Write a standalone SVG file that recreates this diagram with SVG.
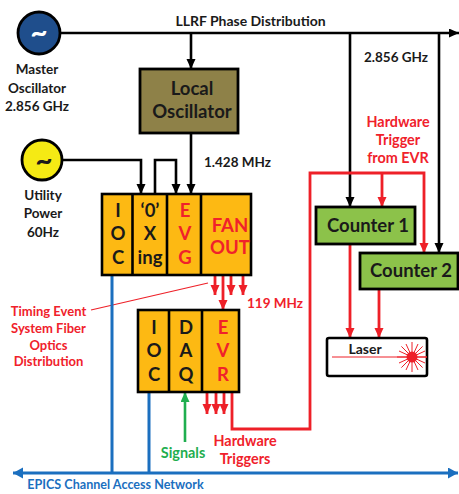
<svg xmlns="http://www.w3.org/2000/svg" width="459" height="494" viewBox="0 0 459 494">
<style>
text{font-family:Lato,"Open Sans","Liberation Sans",sans-serif;font-weight:700;text-anchor:middle}
.k{fill:#1a1a1a}.r{fill:#f0212b}.g{fill:#1fae4f}.b{fill:#1b6fbf}
.t13{font-size:13.5px}.t14{font-size:14.4px}.t12{font-size:13px}.t18{font-size:18.500px}
.lk{fill:none;stroke:#000;stroke-width:2.6}
.lr{fill:none;stroke:#ee2028;stroke-width:2.8}
.lb{fill:none;stroke:#1b6fbf;stroke-width:3}
.lg{fill:none;stroke:#1fae4f;stroke-width:2.6}
.box{fill:#fdb913;stroke:#000;stroke-width:2.6}
.cnt{fill:#8cc24a;stroke:#000;stroke-width:2.8}
</style>
<defs>
<marker id="ak" markerUnits="userSpaceOnUse" markerWidth="12" markerHeight="10" refX="10" refY="4.5" orient="auto"><path d="M0 0L10 4.5L0 9Z" fill="#000"/></marker>
<marker id="ar" markerUnits="userSpaceOnUse" markerWidth="12" markerHeight="10" refX="10" refY="4.5" orient="auto"><path d="M0 0L10 4.5L0 9Z" fill="#ee2028"/></marker>
<marker id="ag" markerUnits="userSpaceOnUse" markerWidth="12" markerHeight="10" refX="10" refY="4.5" orient="auto"><path d="M0 0L10 4.5L0 9Z" fill="#1fae4f"/></marker>
<marker id="ab" markerUnits="userSpaceOnUse" markerWidth="12" markerHeight="12" refX="10" refY="5.5" orient="auto-start-reverse"><path d="M0 0L10 5.5L0 11Z" fill="#1b6fbf"/></marker>
</defs>
<g id="connectors">
<path class="lk" d="M60 33H459" marker-end="url(#ak)"/>
<path class="lk" d="M191 33V69" marker-end="url(#ak)"/>
<path class="lk" d="M350 33V207" marker-end="url(#ak)"/>
<path class="lk" d="M439 33V253" marker-end="url(#ak)"/>
<path class="lk" d="M191 133V194" marker-end="url(#ak)"/>
<path class="lk" d="M62 160H141V194" marker-end="url(#ak)"/>
<path class="lk" d="M155 194V160H176V194" marker-end="url(#ak)"/>
<path class="lr" d="M194 236H212" marker-end="url(#ar)"/>
<path class="lr" d="M215 275V295" marker-end="url(#ar)"/>
<path class="lr" d="M223 275V310" marker-end="url(#ar)"/>
<path class="lr" d="M231 275V295" marker-end="url(#ar)"/>
<path class="lr" d="M243 275V295" marker-end="url(#ar)"/>
<path class="lr" d="M207 392V414" marker-end="url(#ar)"/>
<path class="lr" d="M216 392V414" marker-end="url(#ar)"/>
<path class="lr" d="M224 392V414" marker-end="url(#ar)"/>
<path class="lr" d="M232 392V429H310V173H424V253" marker-end="url(#ar)"/>
<path class="lr" d="M382 173V207" marker-end="url(#ar)"/>
<path class="lr" d="M350 244V338" marker-end="url(#ar)"/>
<path class="lr" d="M379 289V338" marker-end="url(#ar)"/>
<path fill="none" stroke="#ee2028" stroke-width="1.2" d="M91 310L208 283"/>
<path class="lg" d="M185 442V392" marker-end="url(#ag)"/>
<path class="lb" d="M112 275V473M149 392V473"/>
<path class="lb" d="M13 473H458" marker-start="url(#ab)" marker-end="url(#ab)"/>
</g>
<g id="master-oscillator">
<circle cx="39" cy="33" r="21" fill="#1f4e8c" stroke="#000" stroke-width="2.8"/>
<text x="39" y="43" font-size="30" style="fill:#fff">~</text>
<text class="k t13" x="37" y="74">Master</text>
<text class="k t13" x="37" y="93">Oscillator</text>
<text class="k t13" x="37" y="111">2.856 GHz</text>
</g>
<g id="utility-power">
<circle cx="42" cy="160" r="20" fill="#f5ea14" stroke="#000" stroke-width="2.8"/>
<text x="44" y="171" font-size="30" class="k">~</text>
<text class="k t13" x="43" y="200">Utility</text>
<text class="k t13" x="43" y="218">Power</text>
<text class="k t13" x="43" y="237">60Hz</text>
</g>
<g id="local-oscillator">
<rect x="140" y="69" width="98" height="64" fill="#8e8148" stroke="#000" stroke-width="2.8"/>
<text class="k t18" x="192" y="95">Local</text>
<text class="k t18" x="192" y="118">Oscillator</text>
</g>
<g id="timing-box">
<rect class="box" x="102" y="194" width="149" height="81"/>
<path fill="none" stroke="#000" stroke-width="2.6" d="M132.500 194V275M167 194V275M201 194V275"/>
<text class="k t18" x="118" y="217">I</text><text class="k t18" x="118" y="240">O</text><text class="k t18" x="118" y="264">C</text>
<text class="k t18" x="150" y="217">‘0’</text><text class="k t18" x="150" y="240">X</text><text class="k t18" x="150" y="264">ing</text>
<text class="r t18" x="185" y="217">E</text><text class="r t18" x="185" y="240">V</text><text class="r t18" x="185" y="264">G</text>
<text class="r t18" x="230" y="232">FAN</text><text class="r t18" x="230" y="254">OUT</text>
</g>
<g id="evr-box">
<rect class="box" x="138" y="310" width="101" height="82"/>
<path fill="none" stroke="#000" stroke-width="2.6" d="M169 310V392M202 310V392"/>
<text class="k t18" x="154" y="334">I</text><text class="k t18" x="154" y="357">O</text><text class="k t18" x="154" y="381">C</text>
<text class="k t18" x="186" y="334">D</text><text class="k t18" x="186" y="357">A</text><text class="k t18" x="186" y="381">Q</text>
<text class="r t18" x="223" y="334">E</text><text class="r t18" x="223" y="357">V</text><text class="r t18" x="223" y="381">R</text>
</g>
<g id="counter-1">
<rect class="cnt" x="316" y="207" width="99" height="37"/>
<text class="k t18" x="368" y="232">Counter 1</text>
</g>
<g id="counter-2">
<rect class="cnt" x="360" y="253" width="98" height="36"/>
<text class="k t18" x="411" y="277">Counter 2</text>
</g>
<g id="laser">
<rect x="327" y="338" width="100" height="38" rx="2" fill="#fff" stroke="#000" stroke-width="2.6"/>
<text class="k" font-size="14" x="365" y="354">Laser</text>
<path fill="none" stroke="#ee2028" stroke-width="1" d="M332 357H427M412 342V372M397 357H427M401.400 346.400L422.600 367.600M401.400 367.600L422.600 346.400M406 344L418 370M406 370L418 344M399 351L425 363M399 363L425 351"/>
<circle cx="412" cy="357" r="5.500" fill="#ee2028"/>
</g>
<g id="labels">
<text class="k" font-size="14" x="250.500" y="26">LLRF Phase Distribution</text>
<text class="k t13" x="396" y="62">2.856 GHz</text>
<text class="k t13" x="237.500" y="167">1.428 MHz</text>
<text class="r t14" x="398" y="127">Hardware</text>
<text class="r t14" x="398" y="145">Trigger</text>
<text class="r t14" x="398" y="163">from EVR</text>
<text class="r t13" x="275" y="308">119 MHz</text>
<text class="r t12" x="48.500" y="316">Timing Event</text>
<text class="r t12" x="48.500" y="333">System Fiber</text>
<text class="r t12" x="48.500" y="350">Optics</text>
<text class="r t12" x="48.500" y="366">Distribution</text>
<text class="g t14" x="183" y="458">Signals</text>
<text class="r t14" x="245" y="446">Hardware</text>
<text class="r t14" x="245" y="464">Triggers</text>
<text class="b" font-size="12.600" x="115.500" y="489">EPICS Channel Access Network</text>
</g>
</svg>
